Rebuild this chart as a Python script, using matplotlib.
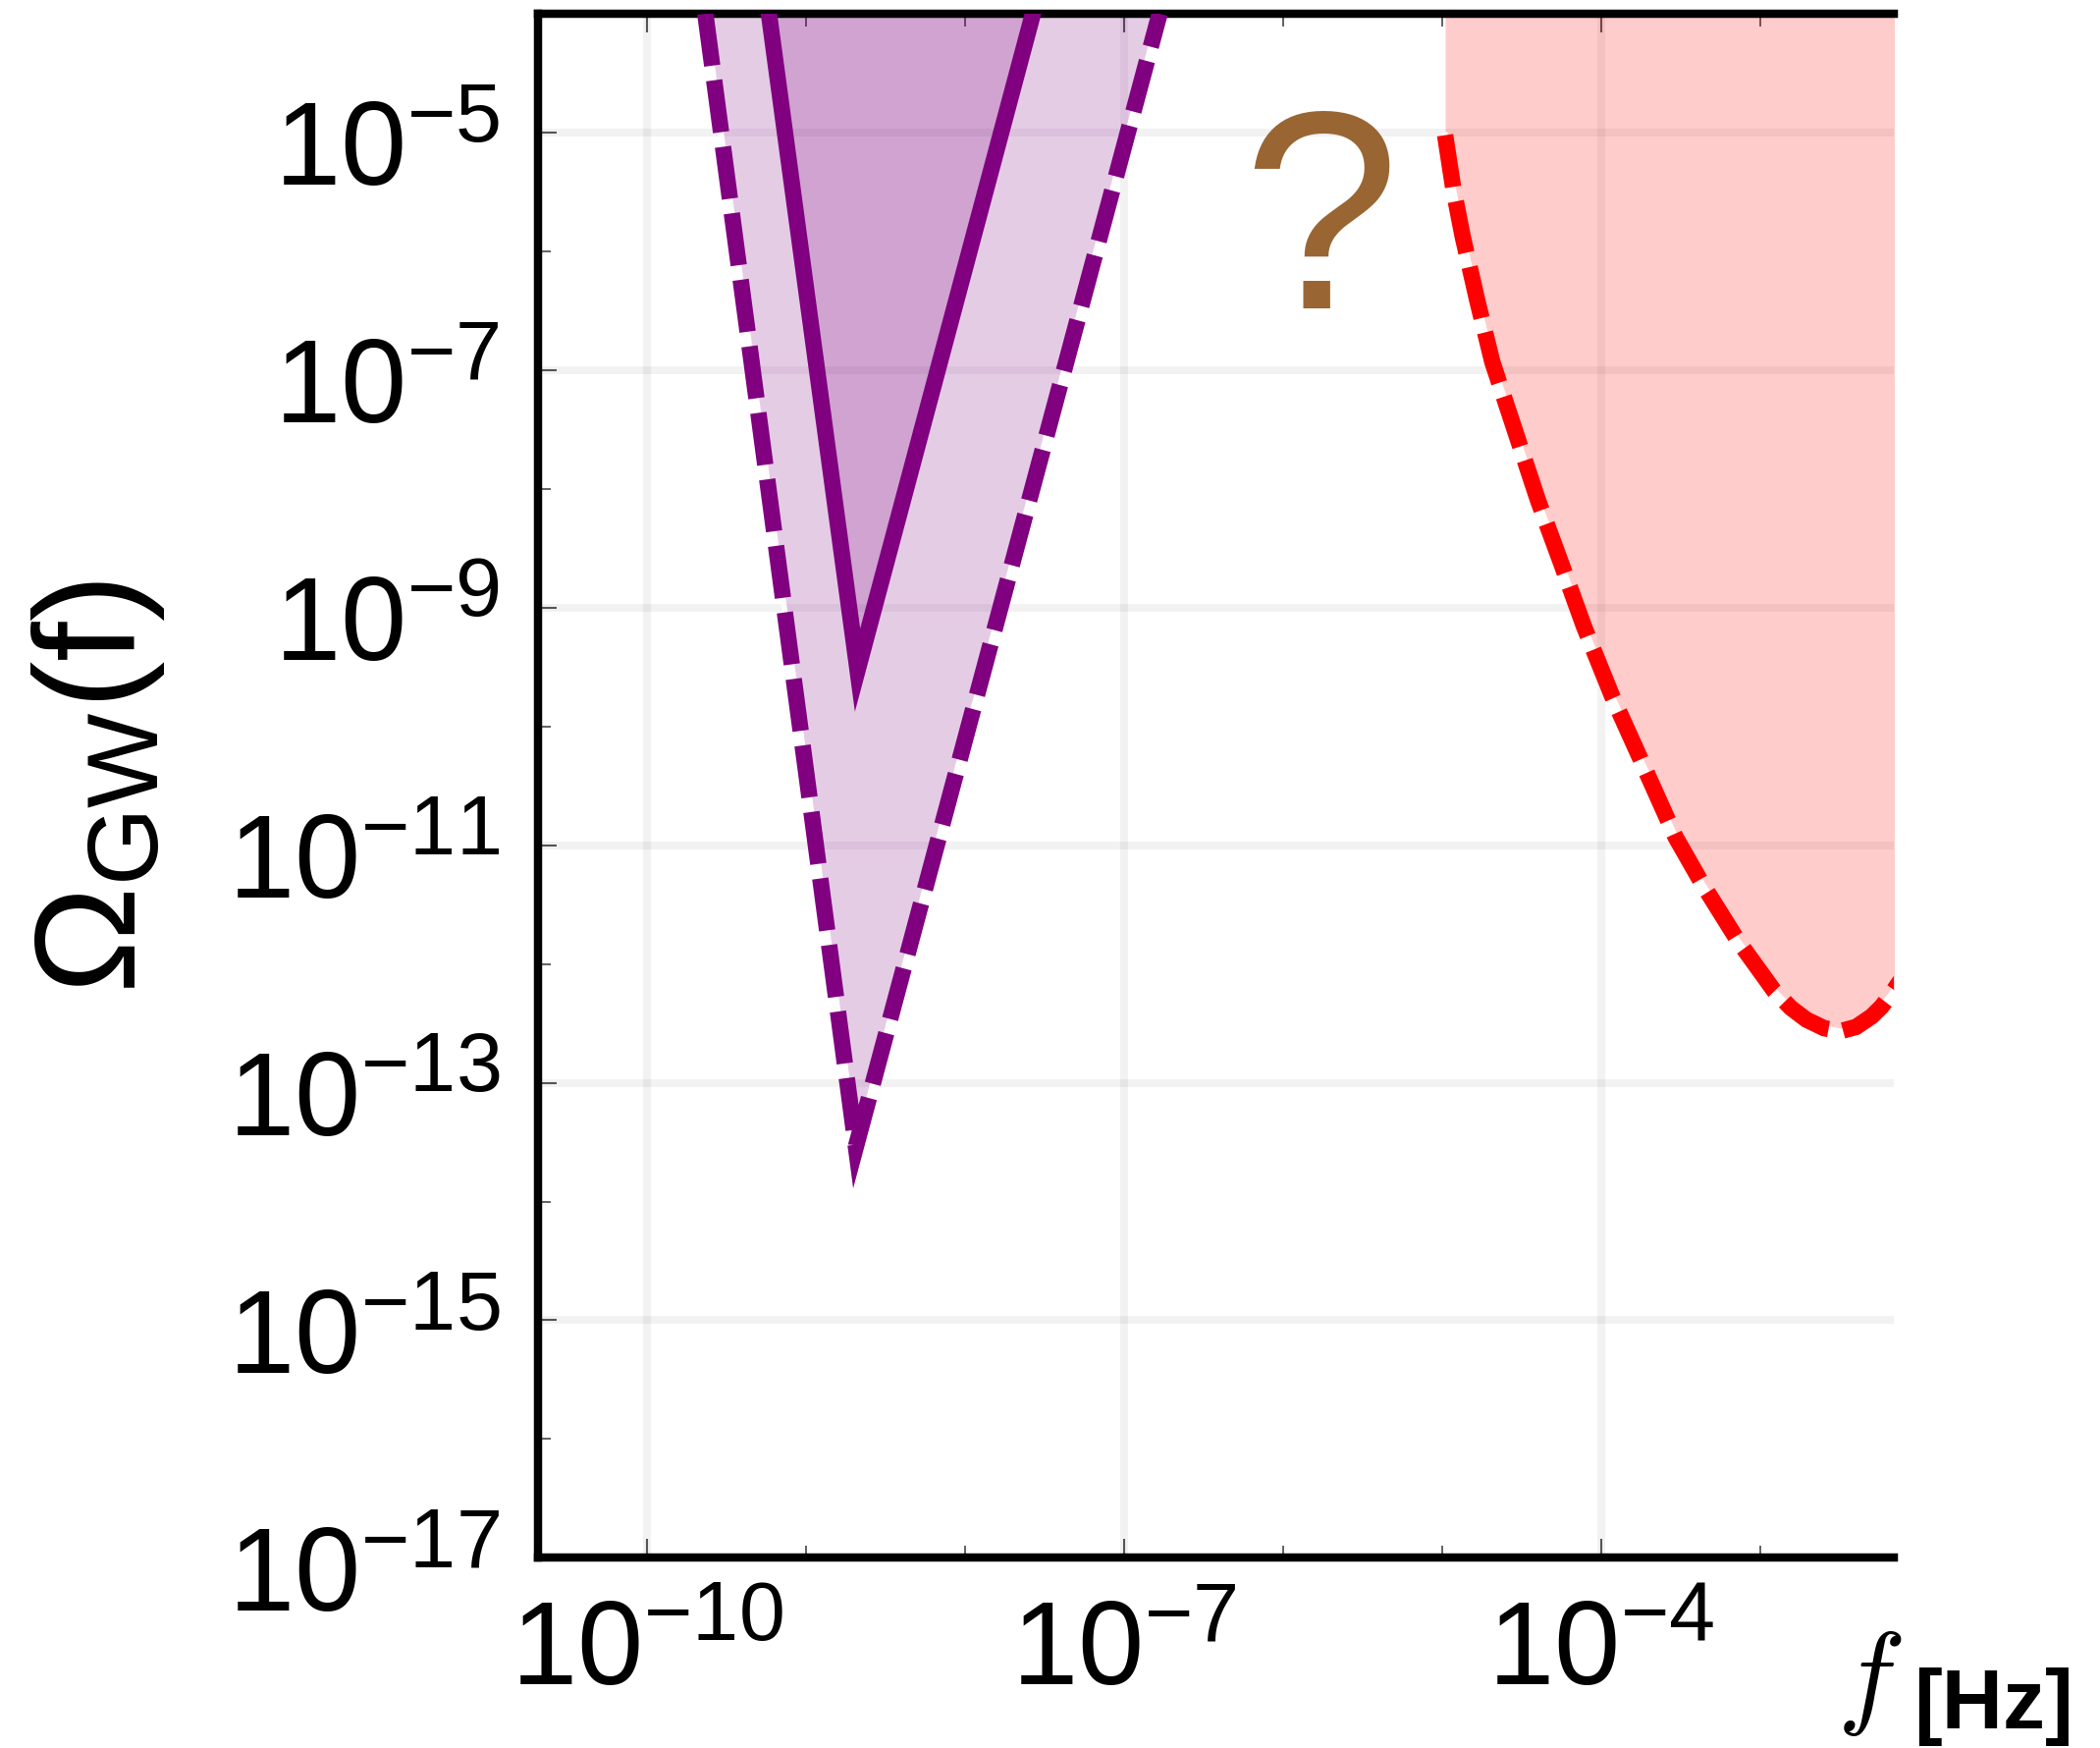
import numpy as np
import matplotlib
matplotlib.use('Agg')
import matplotlib.pyplot as plt
from matplotlib.ticker import FixedLocator, FuncFormatter, NullFormatter
from matplotlib.transforms import ScaledTranslation

plt.rcParams['font.family'] = 'Liberation Sans'
plt.rcParams['mathtext.fontset'] = 'custom'
plt.rcParams['mathtext.rm'] = 'Liberation Sans'
plt.rcParams['mathtext.it'] = 'Liberation Sans:italic'
plt.rcParams['mathtext.bf'] = 'Liberation Sans:bold'
plt.rcParams['mathtext.default'] = 'it'

# PTA region: outer bound (dashed) and inner signal band (solid)
pta_bound_f = [2.33e-10, 2.06e-9, 1.67e-7]
pta_bound_omega = [1e-4, 2.9e-14, 1e-4]
pta_signal_f = [5.85e-10, 2.11e-9, 2.67e-8]
pta_signal_omega = [1e-4, 2.98e-10, 1e-4]

# space-based detector sensitivity curve
lisa_f = [1.04e-5, 1.17e-5, 1.34e-5, 1.66e-5, 2.06e-5, 2.88e-5, 3.99e-5, 5.62e-5,
          7.74e-5, 1.17e-4, 1.82e-4, 2.92e-4, 4.27e-4, 7.18e-4, 1.21e-3, 1.55e-3,
          1.94e-3, 2.51e-3, 3.18e-3, 3.98e-3, 5.0e-3, 5.75e-3, 6.64e-3, 7.94e-3]
lisa_omega = [9.5e-6, 3.4e-6, 1.34e-6, 3.8e-7, 1.17e-7, 3.0e-8, 8.0e-9, 2.3e-9,
              7.0e-10, 1.78e-10, 4.8e-11, 1.17e-11, 4.8e-12, 1.58e-12, 6.0e-13, 4.27e-13,
              3.4e-13, 2.88e-13, 2.72e-13, 2.95e-13, 3.63e-13, 4.37e-13, 5.62e-13, 7.94e-13]

x_major = [1e-10, 1e-7, 1e-4]
x_minor = [1e-9, 1e-8, 1e-6, 1e-5, 1e-3]
y_major = [1e-17, 1e-15, 1e-13, 1e-11, 1e-9, 1e-7, 1e-5]
y_minor = [1e-16, 1e-14, 1e-12, 1e-10, 1e-8, 1e-6]

PURPLE = '#800080'
RED = '#ff0000'
LW = 12
DASH = (0, (3.2, 0.9))

fig = plt.figure(figsize=(21.39, 17.81), dpi=100)
ax = fig.add_axes([0.2562, 0.1087, 0.9018 - 0.2562, 0.99158 - 0.1087])
ax.set_xscale('log')
ax.set_yscale('log')
ax.set_xlim(2.07e-11, 6.87e-3)
ax.set_ylim(1e-17, 1e-4)

# fills
ax.fill(pta_bound_f, pta_bound_omega, color=PURPLE, alpha=0.2, lw=0, zorder=1)
ax.fill(pta_signal_f, pta_signal_omega, color=PURPLE, alpha=0.2, lw=0, zorder=1)
ax.fill_between(lisa_f, lisa_omega, 1e-4, color=RED, alpha=0.2, lw=0, zorder=1)

# dashed outlines sit on a thin white line
for fx, fy, c in [(pta_bound_f, pta_bound_omega, PURPLE), (lisa_f, lisa_omega, RED)]:
    ax.plot(fx, fy, color='white', lw=4, zorder=2, solid_joinstyle='miter')
    ax.plot(fx, fy, color=c, lw=LW, ls=DASH, zorder=3,
            dash_joinstyle='miter', dash_capstyle='butt')
ax.plot(pta_signal_f, pta_signal_omega, color=PURPLE, lw=LW, zorder=3,
        solid_joinstyle='miter')

ax.text(1.71e-6, 3.35e-7, '?', color='#996633', fontsize=207,
        ha='center', va='baseline', zorder=4)

# ticks and grid
ax.xaxis.set_major_locator(FixedLocator(x_major))
ax.xaxis.set_minor_locator(FixedLocator(x_minor))
ax.yaxis.set_major_locator(FixedLocator(y_major))
ax.yaxis.set_minor_locator(FixedLocator(y_minor))
fmt = FuncFormatter(lambda v, p: r'$\mathregular{10^{%d}}$' % round(np.log10(v)))
ax.xaxis.set_major_formatter(fmt)
ax.yaxis.set_major_formatter(fmt)
ax.xaxis.set_minor_formatter(NullFormatter())
ax.yaxis.set_minor_formatter(NullFormatter())

ax.tick_params(which='both', direction='in', top=True, right=False,
               color='#555555', labelsize=87)
ax.tick_params(which='major', length=14, width=1.5)
ax.tick_params(which='minor', length=9, width=1.3)
ax.tick_params(axis='x', pad=30)
ax.tick_params(axis='y', pad=28)

# nudge y labels down a little
shift = ScaledTranslation(0, -7 / 72, fig.dpi_scale_trans)
for lab in ax.get_yticklabels():
    lab.set_transform(lab.get_transform() + shift)

ax.set_axisbelow(True)
ax.grid(True, which='major', color='k', alpha=0.05, lw=5.8)

for side in ['left', 'top', 'bottom']:
    ax.spines[side].set_linewidth(6.1)
    ax.spines[side].set_color('black')
ax.spines['right'].set_visible(False)

ax.set_ylabel(r'$\mathregular{\Omega_{GW}(f)}$', fontsize=105)
ax.yaxis.set_label_coords(-0.274, 0.5)

fig.text(0.9056, 0.021, r'$f$', math_fontfamily='cm', fontsize=84,
         ha='right', va='baseline')
fig.text(0.9110, 0.012, '[Hz]', fontsize=62, fontweight='bold',
         ha='left', va='baseline')

fig.savefig('out.png', dpi=100)
